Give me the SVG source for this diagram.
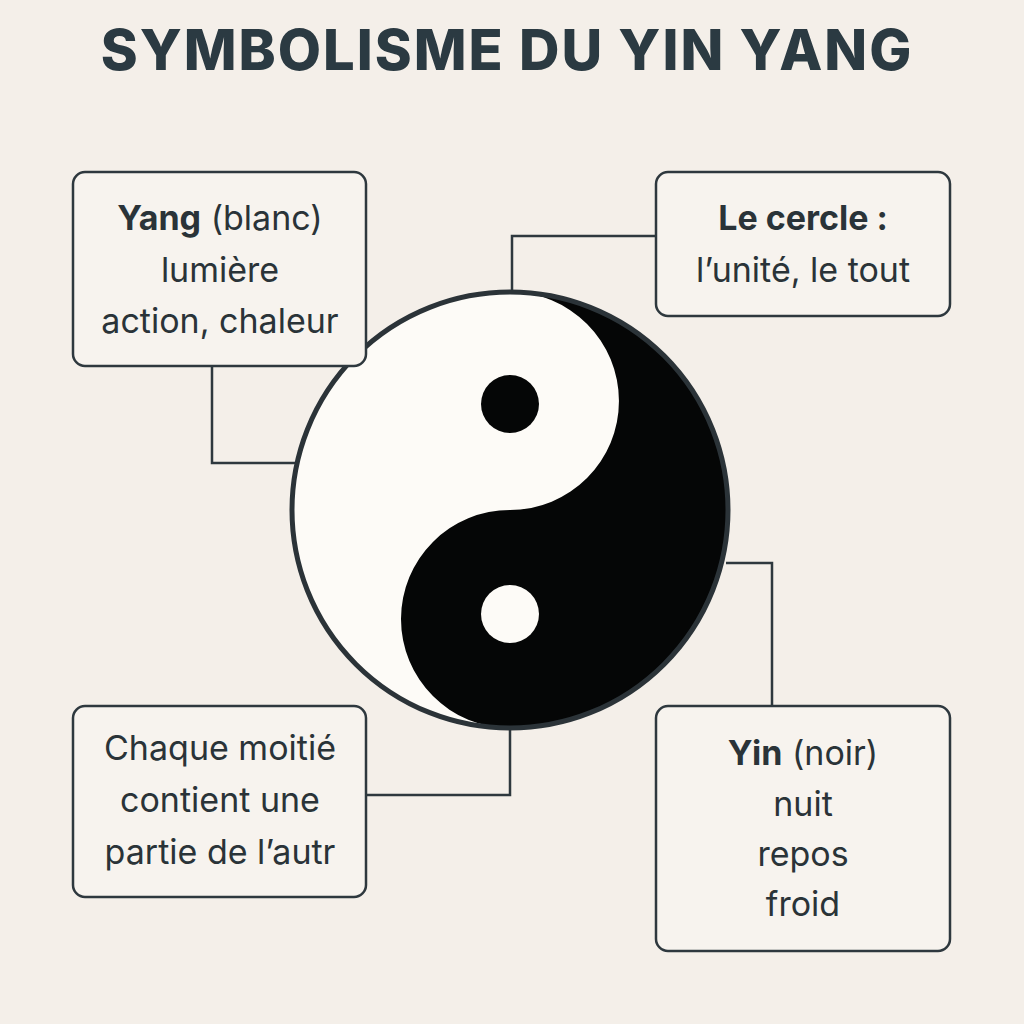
<svg xmlns="http://www.w3.org/2000/svg" width="1024" height="1024" viewBox="0 0 1024 1024">
<style>
.box{fill:#f7f3ee;stroke:#2e383e;stroke-width:2.5}
.t{font-family:Inter,"Noto Sans",sans-serif;font-size:34px;fill:#2a3338;text-anchor:middle}
.b{font-weight:700}
.c{fill:none;stroke:#2e383e;stroke-width:2.5}
</style>
<rect width="1024" height="1024" fill="#f4efe9"/>
<text x="507" y="70" font-family="Inter,'Noto Sans',sans-serif" font-size="56" font-weight="800" letter-spacing="2" fill="#2b3a42" text-anchor="middle">SYMBOLISME DU YIN YANG</text>
<g id="connectors">
<path class="c" d="M212,366 V463 H298"/>
<path class="c" d="M656,236 H512 V300"/>
<path class="c" d="M726,563 H772 V706"/>
<path class="c" d="M366,795 H510 V726"/>
</g>
<g id="yinyang">
<circle cx="510" cy="510" r="218" fill="#fdfbf7"/>
<path d="M510,292 A218,218 0 0 1 510,728 A109,109 0 0 1 510,510 A109,109 0 0 0 510,292 Z" fill="#050606"/>
<circle cx="510" cy="404" r="29" fill="#050606"/>
<circle cx="510" cy="614" r="29" fill="#fdfbf7"/>
<circle cx="510" cy="510" r="218" fill="none" stroke="#2b3338" stroke-width="5"/>
</g>
<g id="yang">
<rect class="box" x="73" y="172" width="293" height="194" rx="12"/>
<text class="t" x="220" y="230"><tspan class="b">Yang</tspan> (blanc)</text>
<text class="t" x="220" y="282">lumière</text>
<text class="t" x="220" y="333">action, chaleur</text>
</g>
<g id="cercle">
<rect class="box" x="656" y="172" width="294" height="144" rx="12"/>
<text class="t b" x="803" y="230">Le cercle :</text>
<text class="t" x="803" y="282">l’unité, le tout</text>
</g>
<g id="chaque">
<rect class="box" x="73" y="706" width="293" height="191" rx="12"/>
<text class="t" x="220" y="760">Chaque moitié</text>
<text class="t" x="220" y="812">contient une</text>
<text class="t" x="220" y="864">partie de l’autr</text>
</g>
<g id="yin">
<rect class="box" x="656" y="706" width="294" height="245" rx="12"/>
<text class="t" x="803" y="765"><tspan class="b">Yin</tspan> (noir)</text>
<text class="t" x="803" y="816">nuit</text>
<text class="t" x="803" y="866">repos</text>
<text class="t" x="803" y="916">froid</text>
</g>
</svg>
